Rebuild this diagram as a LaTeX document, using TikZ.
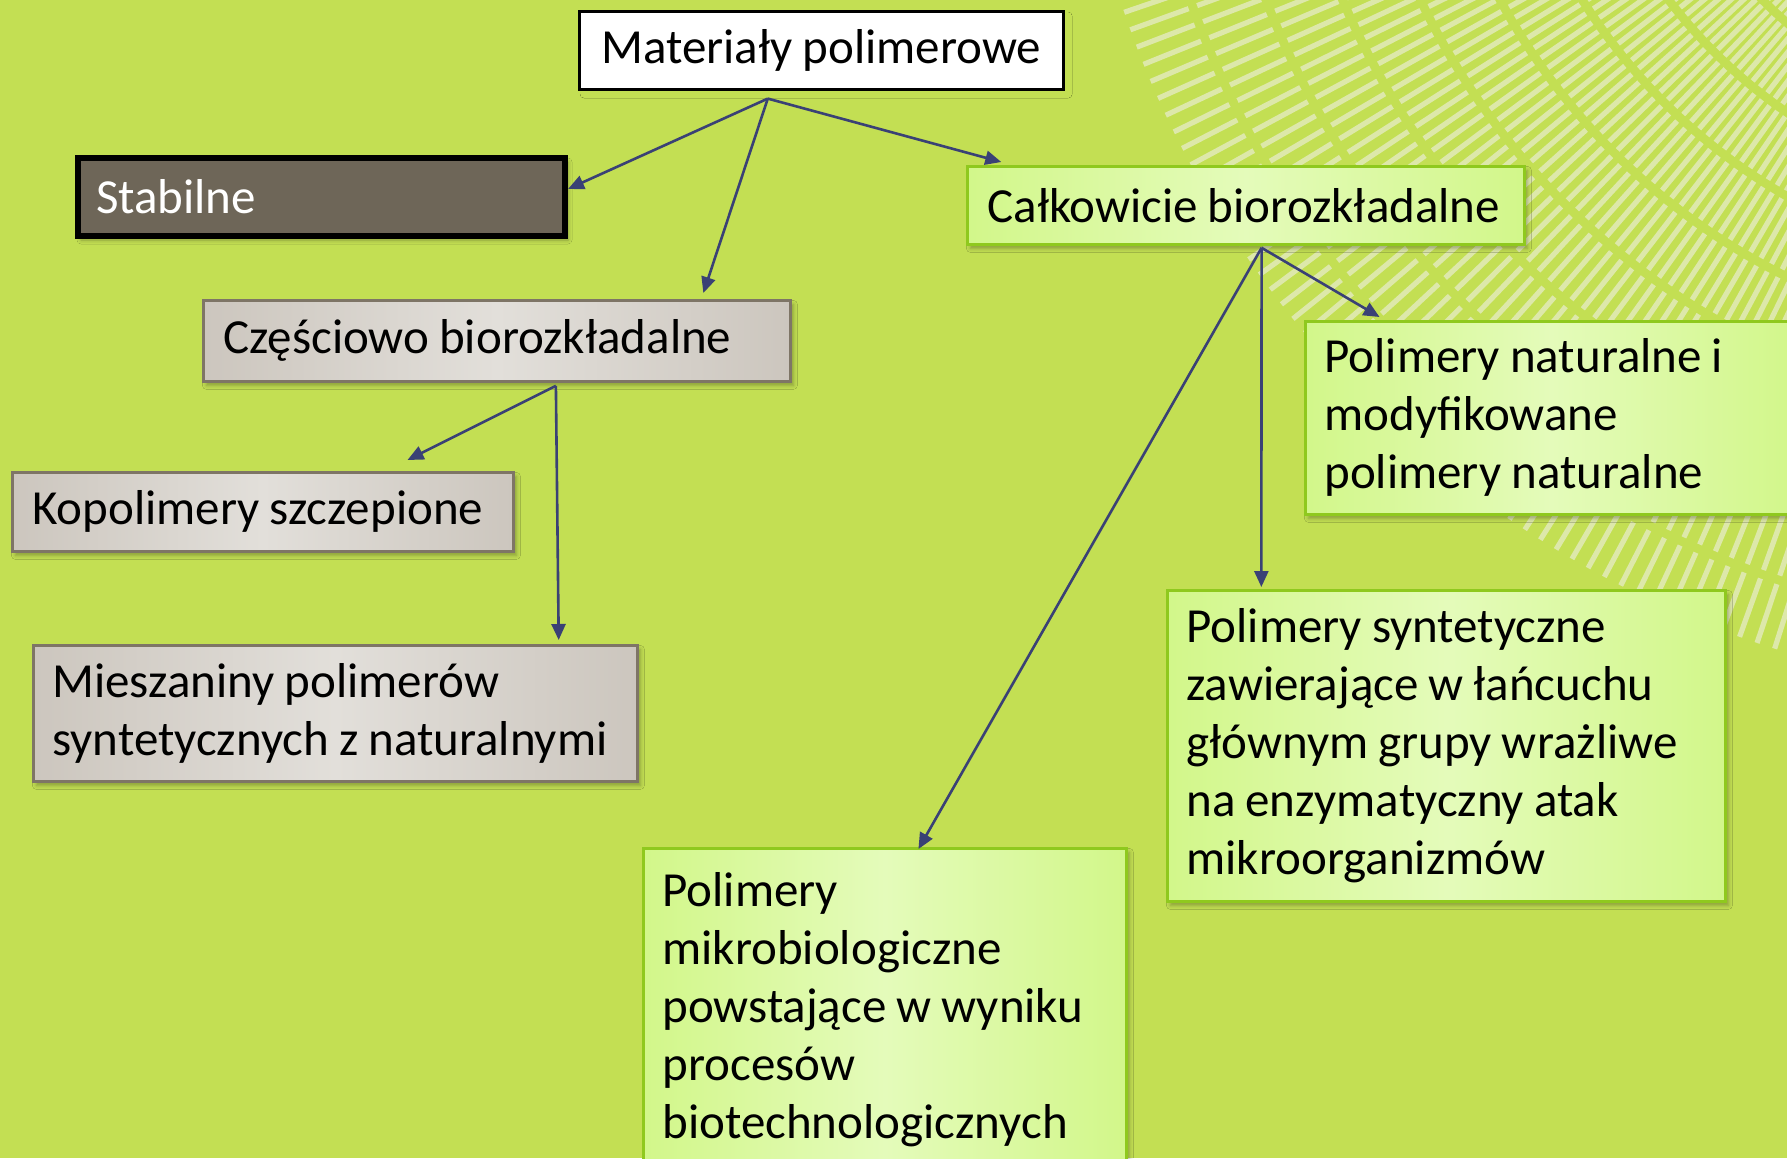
\documentclass[tikz,border=0pt]{standalone}
\usepackage{fontspec}
\setmainfont[WordSpace=0.9]{Carlito}
\usetikzlibrary{arrows.meta,calc,shadows.blur}
\definecolor{bg}{HTML}{C3DF53}
\definecolor{stabfill}{HTML}{6E6658}
\definecolor{grayedge}{HTML}{CCC6BE}
\definecolor{graymid}{HTML}{E2DFDA}
\definecolor{grayline}{HTML}{7E7566}
\definecolor{greenedge}{HTML}{D2F78A}
\definecolor{greenmid}{HTML}{E4FBBA}
\definecolor{greenline}{HTML}{8FC91E}
\definecolor{arrcol}{HTML}{3A4175}
\definecolor{stripecol}{HTML}{E4EBC0}
\tikzset{
  box/.style={anchor=north west, inner xsep=10pt, inner ysep=0pt, align=flush left,
    font=\fontsize{24.5}{29}\selectfont,
    blur shadow={shadow xshift=1.5pt, shadow yshift=-2pt, shadow blur radius=2pt, shadow opacity=30}},
  graybox/.style={box, draw=grayline, line width=1.4pt, left color=grayedge, right color=grayedge, middle color=graymid},
  greenbox/.style={box, draw=greenline, line width=1.4pt, left color=greenedge, right color=greenedge, middle color=greenmid},
  stripe/.style={stripecol, opacity=0.8, line width=2.6pt, dash pattern=on 31pt off 4.5pt},
  arr/.style={draw=arrcol, line width=1.3pt, -{Triangle[length=8pt,width=7pt]}, fill=arrcol}
}
\begin{document}
\begin{tikzpicture}[x=0.5pt,y=-0.5pt]
\useasboundingbox (0,0) rectangle (1787,1158);
\fill[bg] (0,0) rectangle (1787,1158);
\begin{scope}
  \clip (0,0) rectangle (1787,1158);
  \clip (2080,-314) circle (505pt);
  \foreach \a in {95,96.05,...,176} {
    \draw[stripe,shift={(2080,-314)}] (\a:1010) -- (\a:60);
  }
\end{scope}
\begin{scope}
\clip (0,0) rectangle (1787,1158);
\node[box, draw=black, line width=1.3pt, fill=white, align=center, inner xsep=0pt,
  minimum width=242pt, minimum height=39pt, blur shadow={shadow opacity=0}] (root) at (578,10) {Materiały polimerowe};
\node[box, draw=black, line width=3pt, fill=stabfill, text=white, inner xsep=9pt,
  text width=225.5pt, minimum height=39pt] (stab) at (75,155) {Stabilne};
\node[greenbox, text width=258.5pt, minimum height=39pt] (calk) at (966,165) {Całkowicie biorozkładalne};
\node[graybox, text width=273.5pt, minimum height=40.5pt] (czes) at (202,299) {Częściowo biorozkładalne};
\node[graybox, text width=230.5pt, minimum height=39.5pt] (kopo) at (11,471) {Kopolimery szczepione};
\node[graybox, inner xsep=9.5pt, text width=283pt, minimum height=68pt] (miesz) at (32,644) {Mieszaniny polimerów\\syntetycznych z naturalnymi};
\node[greenbox, inner xsep=9.5pt, text width=226.5pt, minimum height=96.5pt] (natur) at (1304,320) {Polimery naturalne i\\modyfikowane\\polimery naturalne};
\node[greenbox, inner xsep=9.5pt, text width=260pt, minimum height=155.5pt] (synt) at (1166,589) {Polimery syntetyczne\\zawierające w łańcuchu\\głównym grupy wrażliwe\\na enzymatyczny atak\\mikroorganizmów};
\node[greenbox, inner xsep=9.5pt, text width=222.5pt, minimum height=161pt] (mikro) at (642,847) {Polimery\\mikrobiologiczne\\powstające w wyniku\\procesów\\biotechnologicznych};
\end{scope}
\coordinate (r) at ($(root.south west)!0.39!(root.south east)+(0,8)$);
\draw[arr] (r) -- ($(stab.east)+(0,-8)$);
\draw[arr] (r) -- ($(czes.north west)!0.85!(czes.north east)+(0,-6)$);
\draw[arr] (r) -- ($(calk.north west)!0.063!(calk.north east)+(0,-3)$);
\coordinate (cz) at ($(czes.south west)!0.6!(czes.south east)+(0,3)$);
\draw[arr] (cz) -- ($(kopo.north west)!0.787!(kopo.north east)+(0,-11)$);
\draw[arr] (cz) -- ($(miesz.north west)!0.868!(miesz.north east)+(0,-4)$);
\coordinate (ck) at ($(calk.south west)!0.528!(calk.south east)+(0,2)$);
\draw[arr] (ck) -- ($(natur.north west)!0.153!(natur.north east)+(0,-3)$);
\draw[arr] (ck) -- ($(synt.north west)!0.17!(synt.north east)+(0,-2)$);
\draw[arr] (ck) -- ($(mikro.north west)!0.569!(mikro.north east)+(0,2)$);
\end{tikzpicture}
\end{document}
